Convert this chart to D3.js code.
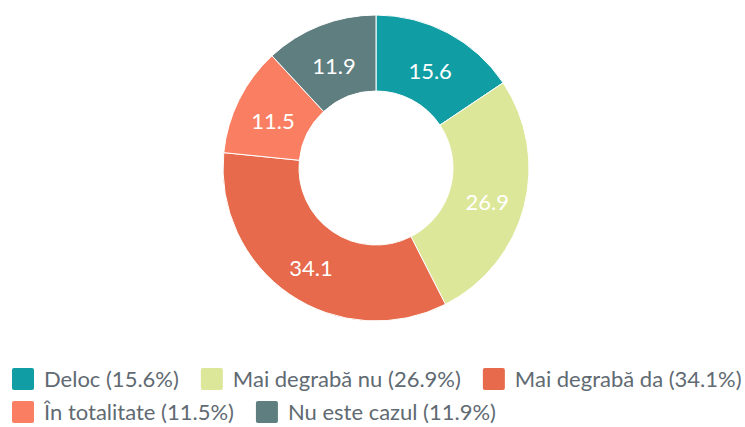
<!DOCTYPE html>
<html>
<head>
<meta charset="utf-8">
<script src="https://cdn.jsdelivr.net/npm/d3@7"></script>
<style>
html,body{margin:0;padding:0;background:#fff;}
svg{display:block;}
</style>
</head>
<body>
<svg id="chart" width="745" height="427"></svg>
<script>
const categories = ["Deloc", "Mai degrabă nu", "Mai degrabă da", "În totalitate", "Nu este cazul"];
const values = [15.6, 26.9, 34.1, 11.5, 11.9];
const colors = ["#119DA4", "#DDE799", "#E66A4B", "#FA7F62", "#5F7E80"];

const data = categories.map((c, i) => ({cat: c, value: values[i], color: colors[i]}));

const svg = d3.select("#chart");
const W = 745;
const cx = 376, cy = 168, outerR = 153, innerR = 77;

const pie = d3.pie().sort(null).value(d => d.value);
const arc = d3.arc().innerRadius(innerR).outerRadius(outerR);
const labelArc = d3.arc().innerRadius((innerR + outerR) / 2).outerRadius((innerR + outerR) / 2);

const g = svg.append("g").attr("transform", `translate(${cx},${cy})`);
const arcs = pie(data);

g.selectAll("path.slice").data(arcs).join("path")
  .attr("class", "slice")
  .attr("d", arc)
  .attr("fill", d => d.data.color)
  .attr("stroke", "#fff")
  .attr("stroke-width", 1);

g.selectAll("text.lbl").data(arcs).join("text")
  .attr("class", "lbl")
  .attr("x", d => labelArc.centroid(d)[0])
  .attr("y", d => labelArc.centroid(d)[1] + 5)
  .attr("dy", "0.35em")
  .attr("text-anchor", "middle")
  .attr("font-family", "Lato, sans-serif")
  .attr("font-size", 22)
  .attr("fill", "#fff")
  .text(d => d3.format(".1f")(d.data.value));

// Legend (flow layout)
const legend = svg.append("g").attr("font-family", "Lato, sans-serif").attr("font-size", 22);
const sw = 22, gapText = 10, gapItem = 22, left = 12, rowH = 33, firstRowY = 379;
let x = left, row = 0;
data.forEach(d => {
  const item = legend.append("g");
  const t = item.append("text")
    .attr("fill", "#5f6a72")
    .attr("dy", "0.35em")
    .text(`${d.cat} (${d3.format(".1f")(d.value)}%)`);
  const tw = t.node().getComputedTextLength();
  const w = sw + gapText + tw;
  if (x + w > W - 3 && x > left) { x = left; row++; }
  const y = firstRowY + row * rowH;
  item.insert("rect", "text")
    .attr("x", x).attr("y", y - sw / 2)
    .attr("width", sw).attr("height", sw)
    .attr("rx", 2)
    .attr("fill", d.color);
  t.attr("x", x + sw + gapText).attr("y", y);
  x += w + gapItem;
});
</script>
</body>
</html>
